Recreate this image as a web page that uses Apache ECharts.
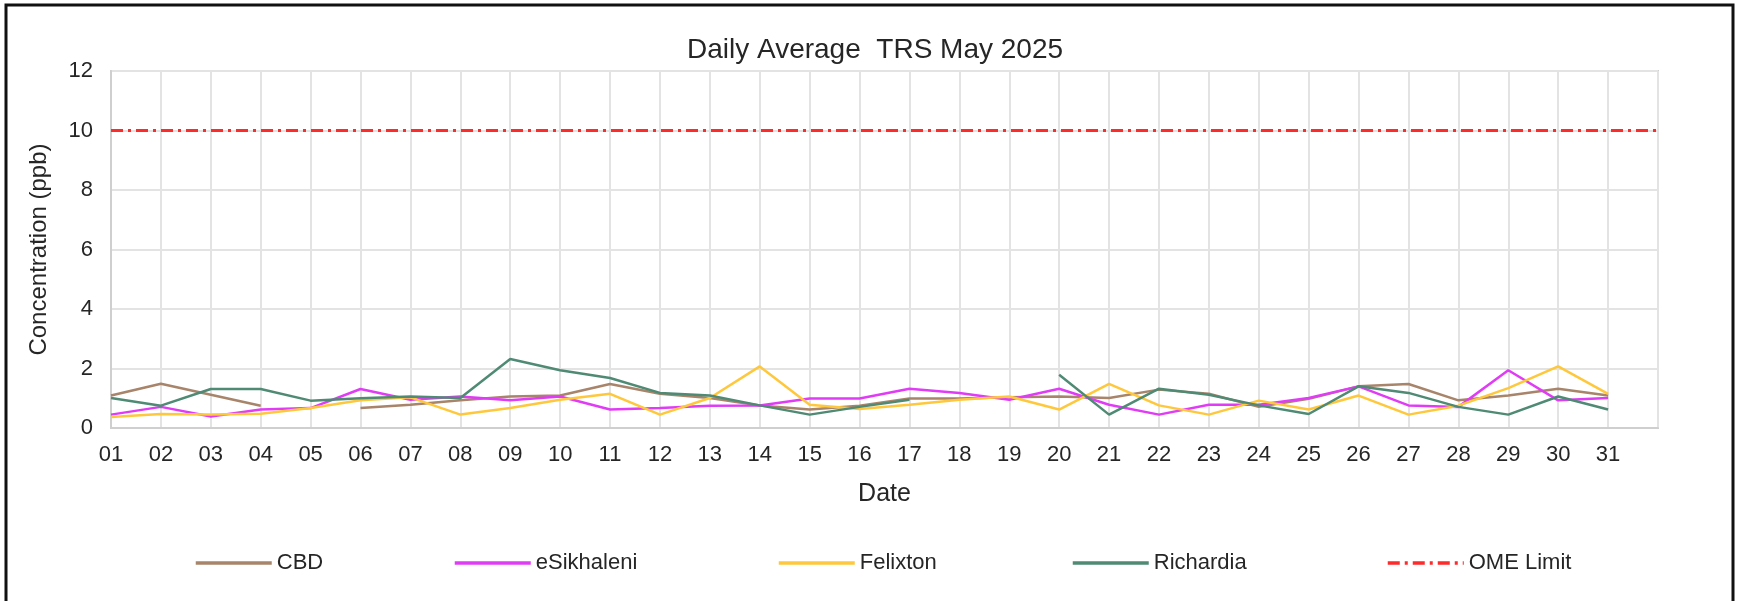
<!DOCTYPE html>
<html>
<head>
<meta charset="utf-8">
<script src="https://cdn.jsdelivr.net/npm/echarts@6/dist/echarts.min.js"></script>
<style>
  html, body { margin: 0; padding: 0; background: #fff; }
  #chart { width: 1739px; height: 601px; }
</style>
</head>
<body>
<div id="chart"></div>
<script>
// Categories (the last empty slot reproduces the extra gridline interval after day 31)
const dates = ['01','02','03','04','05','06','07','08','09','10','11','12','13','14','15','16',
               '17','18','19','20','21','22','23','24','25','26','27','28','29','30','31',''];

const cbd       = [1.09,1.49,1.12,0.75,null,0.67,0.78,0.93,1.06,1.09,1.48,1.15,1.01,0.76,0.62,0.75,
                   0.99,0.99,1.03,1.06,1.01,1.29,1.15,0.71,0.98,1.40,1.48,0.93,1.09,1.32,1.09];
const eSikhaleni= [0.45,0.71,0.39,0.62,0.67,1.31,0.95,1.06,0.93,1.06,0.62,0.67,0.75,0.76,0.99,0.99,
                   1.32,1.18,0.95,1.32,0.78,0.45,0.78,0.78,1.01,1.40,0.76,0.71,1.94,0.93,1.01];
const felixton  = [0.37,0.47,0.45,0.48,0.67,0.93,1.03,0.45,0.67,0.95,1.15,0.45,1.01,2.07,0.78,0.64,
                   0.78,0.95,1.06,0.62,1.48,0.76,0.45,0.92,0.62,1.09,0.45,0.75,1.34,2.07,1.15];
const richardia = [1.01,0.75,1.31,1.31,0.92,1.00,1.06,1.01,2.32,1.94,1.68,1.18,1.09,0.76,0.45,0.71,
                   0.95,null,null,1.79,0.45,1.32,1.12,0.76,0.47,1.40,1.18,0.71,0.45,1.06,0.62];
const omeLimit  = [10,10,10,10,10,10,10,10,10,10,10,10,10,10,10,10,
                   10,10,10,10,10,10,10,10,10,10,10,10,10,10,10,10];

const yTicks = [0, 2, 4, 6, 8, 10, 12];

const FONT = '"Liberation Sans", Arial, sans-serif';
const TXT = '#262626';

const chart = echarts.init(document.getElementById('chart'), null, { renderer: 'canvas' });

function lineSeries(name, data, color, extra) {
  return Object.assign({
    name: name,
    type: 'line',
    data: data,
    symbol: 'none',
    showSymbol: false,
    connectNulls: false,
    lineStyle: { color: color, width: 2.5 },
    itemStyle: { color: color },
    emphasis: { disabled: true },
    animation: false
  }, extra || {});
}

function legendAt(name, left) {
  return {
    data: [name],
    left: left,
    top: 547,
    itemWidth: 76,
    itemHeight: 14,
    itemGap: 10,
    itemStyle: { opacity: 0 },
    lineStyle: { width: 3.5 },
    textStyle: { fontFamily: FONT, fontSize: 22, color: TXT },
    selectedMode: false
  };
}

const option = {
  backgroundColor: '#ffffff',
  animation: false,
  title: {
    text: 'Daily Average  TRS May 2025',
    left: 870,
    top: 31,
    textAlign: 'center',
    textStyle: { fontFamily: FONT, fontSize: 28, fontWeight: 'normal', color: TXT }
  },
  legend: [
    legendAt('CBD', 189),
    legendAt('eSikhaleni', 448),
    legendAt('Felixton', 772),
    legendAt('Richardia', 1066),
    legendAt('OME Limit', 1381)
  ],
  grid: {
    left: 111, right: 81, top: 71, bottom: 173,
    show: true,
    borderColor: '#cfcfcf',
    borderWidth: 2,
    containLabel: false
  },
  xAxis: {
    type: 'category',
    data: dates,
    boundaryGap: false,
    name: 'Date',
    nameLocation: 'middle',
    nameGap: 54,
    nameTextStyle: { fontFamily: FONT, fontSize: 25, color: TXT },
    axisLine: { show: true, lineStyle: { color: '#cfcfcf', width: 2 } },
    axisTick: { show: false },
    axisLabel: { interval: 0, margin: 16, fontFamily: FONT, fontSize: 22, color: TXT },
    splitLine: { show: true, interval: 0, lineStyle: { color: '#e3e3e3', width: 2 } }
  },
  yAxis: {
    type: 'value',
    min: yTicks[0],
    max: yTicks[yTicks.length - 1],
    interval: yTicks[1] - yTicks[0],
    name: 'Concentration (ppb)',
    nameLocation: 'middle',
    nameGap: 60,
    nameTextStyle: { fontFamily: FONT, fontSize: 24, color: TXT },
    axisLine: { show: true, lineStyle: { color: '#cfcfcf', width: 2 } },
    axisTick: { show: false },
    axisLabel: { margin: 18, fontFamily: FONT, fontSize: 22, color: TXT },
    splitLine: { show: true, lineStyle: { color: '#e3e3e3', width: 2 } }
  },
  series: [
    lineSeries('CBD', cbd, '#a8846a'),
    lineSeries('eSikhaleni', eSikhaleni, '#e03cf5'),
    lineSeries('Felixton', felixton, '#ffc83c'),
    lineSeries('Richardia', richardia, '#4f8a74'),
    lineSeries('OME Limit', omeLimit, '#ff2a2a', {
      lineStyle: { color: '#ff2a2a', width: 3, type: [12, 5, 3, 5] },
      z: 3
    })
  ],
  graphic: [{
    type: 'rect',
    silent: true,
    shape: { x: 6, y: 5, width: 1727, height: 640 },
    style: { fill: 'transparent', stroke: '#111111', lineWidth: 3 },
    z: 100
  }]
};

chart.setOption(option);
</script>
</body>
</html>
